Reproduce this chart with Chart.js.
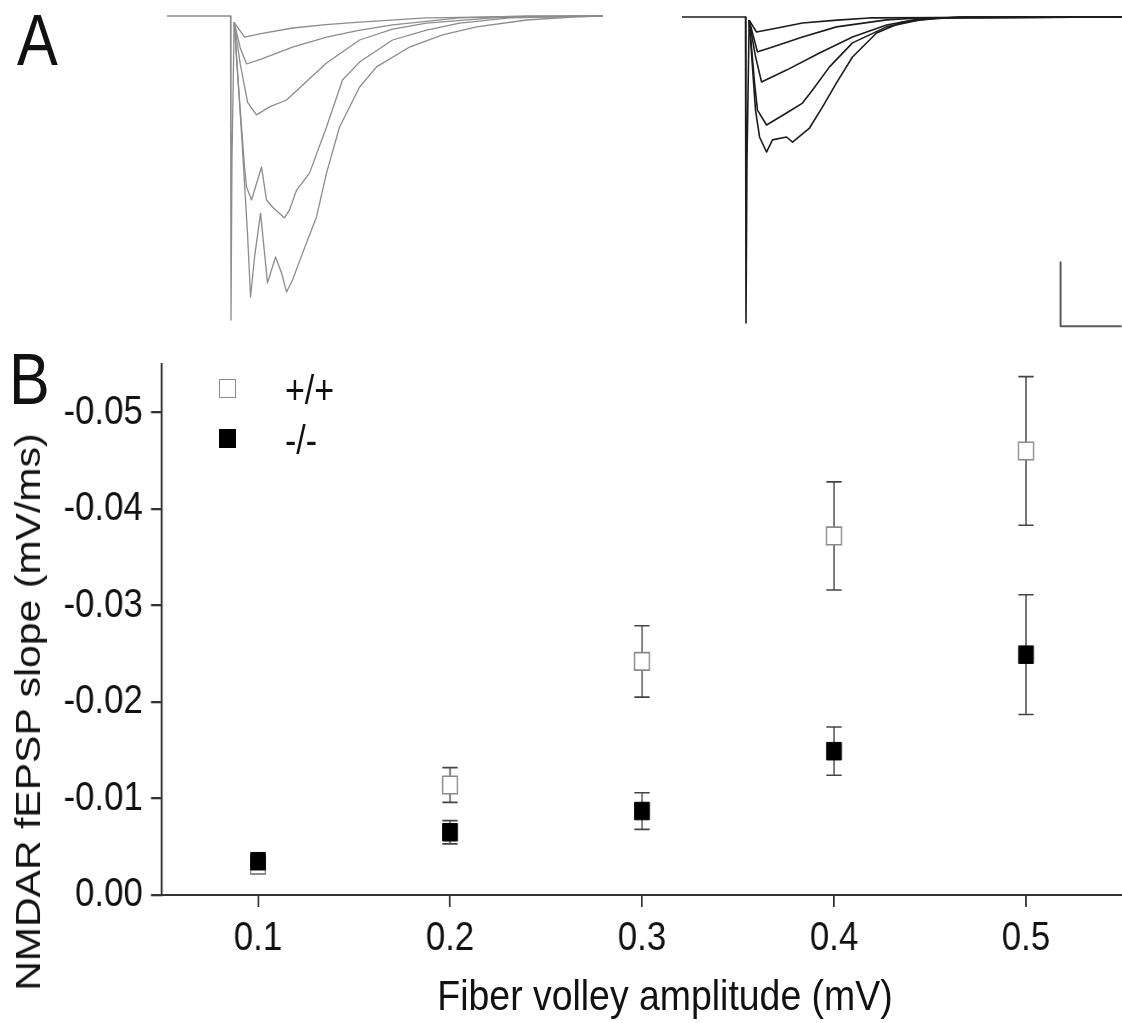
<!DOCTYPE html>
<html>
<head>
<meta charset="utf-8">
<script src="https://cdn.jsdelivr.net/npm/chart.js@4.4.1/dist/chart.umd.min.js"></script>
<style>
  html, body { margin: 0; padding: 0; background: #fff; }
  body {
    width: 1122px; height: 1023px; position: relative; overflow: hidden;
    font-family: 'Liberation Sans', Arial, sans-serif;
    color: #111;
  }
  canvas { position: absolute; }
  #trace-wt { left: 167px; top: 0; }
  #trace-ko { left: 682px; top: 0; }
  #slope-chart { left: 0; top: 330px; }
  .squeeze { position: absolute; white-space: nowrap; transform-origin: 0 0; transform: scaleX(0.85); }
  .panel { font-size: 72px; line-height: 72px; }
  .legend-box { position: absolute; width: 17px; height: 19px; box-sizing: border-box; }
  .legend-text { font-size: 40px; line-height: 40px; }
  #y-title {
    position: absolute; left: 29px; top: 712px;
    font-size: 41px; line-height: 41px; white-space: nowrap;
    transform: translate(-50%, -50%) scaleX(0.85) rotate(-90deg);
  }
  #x-title {
    position: absolute; left: 665px; top: 974px;
    font-size: 43px; line-height: 43px; white-space: nowrap;
    transform: translateX(-50%) scaleX(0.87);
  }
</style>
</head>
<body>
<div class="squeeze panel" style="left:17px; top:4px;">A</div>
<div class="squeeze panel" style="left:9px; top:343px;">B</div>

<canvas id="trace-wt" width="436" height="330"></canvas>
<canvas id="trace-ko" width="440" height="330"></canvas>
<!-- the figure is set in a slightly condensed face: panel B is drawn wider and squeezed sideways -->
<canvas id="slope-chart" width="1320" height="693" style="width:1122px; height:693px;"></canvas>

<div class="legend-box" style="left:219px; top:379px; border:1.5px solid #8a8a8a; background:#fff;"></div>
<div class="squeeze legend-text" style="left:285px; top:370px;">+/+</div>
<div class="legend-box" style="left:219px; top:429px; background:#000;"></div>
<div class="squeeze legend-text" style="left:285px; top:420px;">-/-</div>

<div id="y-title">NMDAR fEPSP slope (mV/ms)</div>
<div id="x-title">Fiber volley amplitude (mV)</div>

<script>
// panel B: NMDAR fEPSP slope vs fiber volley amplitude
const amplitudes = [0.1, 0.2, 0.3, 0.4, 0.5]
const wtSlope = [-0.0031, -0.0114, -0.0242, -0.0372, -0.0460]
const wtSem = [0.0009, 0.0018, 0.0037, 0.0056, 0.0077]
const koSlope = [-0.0035, -0.0065, -0.0087, -0.0149, -0.0249]
const koSem = [0.0005, 0.0012, 0.0019, 0.0025, 0.0062]
const xTicks = [0.1, 0.2, 0.3, 0.4, 0.5]
const yTicks = [-0.05, -0.04, -0.03, -0.02, -0.01, 0]

// panel A: example traces, [time (ms), voltage (mV)]
const wtArtifact = [[-52, 0], [0, 0], [0.4, -0.95], [1.2, -0.45], [3, -0.02]]
const wt1 = [[3, -0.02], [11.5, -0.066], [25, -0.055], [50.8, -0.0375], [78, -0.027], [105.7, -0.019], [160.5, -0.006], [214.6, -0.003], [305, 0]]
const wt2 = [[3, -0.02], [8, -0.1], [13.1, -0.15], [25, -0.135], [50.8, -0.097], [78.6, -0.066], [105, -0.045], [132.7, -0.028], [187.5, -0.006], [242.4, 0], [305, 0]]
const wt3 = [[3, -0.02], [8, -0.15], [14, -0.27], [21.3, -0.309], [31.9, -0.284], [45.9, -0.2625], [56.5, -0.225], [78.6, -0.147], [105.7, -0.075], [132.7, -0.041], [160.5, -0.022], [214.6, -0.006], [242.4, -0.003], [305, 0]]
const wt4 = [[3, -0.02], [7.4, -0.2625], [11.5, -0.472], [13.1, -0.534], [17.2, -0.575], [25.4, -0.472], [29.5, -0.575], [34.4, -0.597], [44.2, -0.631], [48.3, -0.606], [54.1, -0.544], [64.7, -0.491], [78.6, -0.347], [91.7, -0.2], [105.7, -0.144], [132.7, -0.075], [160.5, -0.044], [187.5, -0.022], [228.5, -0.006], [305, 0]]
const wt5 = [[3, -0.02], [9, -0.366], [13.9, -0.678], [16.4, -0.878], [19.7, -0.753], [24.6, -0.616], [30.3, -0.834], [36.9, -0.753], [41.8, -0.803], [45.9, -0.8625], [50.8, -0.825], [59, -0.741], [70.4, -0.628], [78.6, -0.491], [89.3, -0.347], [105.7, -0.222], [119.6, -0.159], [146.6, -0.097], [173.6, -0.059], [201.5, -0.034], [242.4, -0.0125], [283.4, -0.003], [305, 0]]

const koArtifact = [[-52, 0], [0, 0], [0.4, -0.956], [1.2, -0.45], [3, -0.01]]
const ko1 = [[3, -0.01], [9, -0.047], [25, -0.035], [46.7, -0.019], [75, -0.01], [101.6, -0.003], [308, 0]]
const ko2 = [[3, -0.01], [9.8, -0.109], [19.7, -0.097], [46.7, -0.0625], [74.5, -0.031], [115.5, -0.009], [142.5, -0.003], [308, 0]]
const ko3 = [[3, -0.01], [8, -0.12], [13.1, -0.203], [33.6, -0.166], [60.6, -0.1125], [87.6, -0.0625], [115.5, -0.025], [142.5, -0.006], [180, 0], [308, 0]]
const ko4 = [[3, -0.01], [7.4, -0.206], [9.8, -0.291], [17.2, -0.3375], [33.6, -0.3], [46.7, -0.269], [54.9, -0.228], [68.8, -0.156], [87.6, -0.081], [115.5, -0.031], [142.5, -0.009], [175, 0], [308, 0]]
const ko5 = [[3, -0.01], [8.2, -0.291], [11.5, -0.375], [17.2, -0.422], [22.1, -0.384], [33.6, -0.375], [38.5, -0.391], [52.4, -0.347], [63.1, -0.281], [74.5, -0.206], [87.6, -0.125], [107.3, -0.05], [128.6, -0.016], [156.4, -0.003], [308, 0]]

// scale bar, drawn in the -/- trace panel
const scaleBar = [[258, -0.766], [258, -0.966], [308, -0.966]]

Chart.defaults.font.family = "'Liberation Sans', Arial, sans-serif"
Chart.defaults.color = '#111'

const toXY = pts => pts.map(p => ({ x: p[0], y: p[1] }))

function traceDataset (pts, color, width) {
  return {
    data: toXY(pts),
    borderColor: color,
    borderWidth: width,
    pointRadius: 0,
    tension: 0,
    fill: false
  }
}

function traceChart (id, datasets, tMax, vMax, vMin) {
  return new Chart(document.getElementById(id), {
    type: 'line',
    data: { datasets },
    options: {
      responsive: false,
      animation: false,
      devicePixelRatio: 1,
      layout: { padding: 0, autoPadding: false },
      plugins: { legend: { display: false }, tooltip: { enabled: false } },
      elements: { line: { borderJoinStyle: 'round' } },
      scales: {
        x: { type: 'linear', min: -52, max: tMax, display: false },
        y: { type: 'linear', min: vMin, max: vMax, display: false }
      }
    }
  })
}

const wtColor = '#8c8c8c'
const koColor = '#1c1c1c'

traceChart('trace-wt', [wtArtifact, wt1, wt2, wt3, wt4, wt5].map(t => traceDataset(t, wtColor, 1.3)), 305, 0.05, -0.98125)

const koSets = [koArtifact, ko1, ko2, ko3, ko4, ko5].map(t => traceDataset(t, koColor, 1.6))
koSets.push(traceDataset(scaleBar, '#5a5a5a', 2))
traceChart('trace-ko', koSets, 308.3, 0.053, -0.978)

// vertical SEM bars with caps, drawn under the markers
const errorBars = {
  id: 'errorBars',
  beforeDatasetsDraw (chart) {
    const { ctx, scales: { x, y } } = chart
    chart.data.datasets.forEach(ds => {
      if (!ds.errors) return
      ctx.save()
      ctx.strokeStyle = '#444'
      ctx.lineWidth = 1.6
      ds.data.forEach((p, i) => {
        const px = x.getPixelForValue(p.x)
        const top = y.getPixelForValue(p.y - ds.errors[i])
        const bot = y.getPixelForValue(p.y + ds.errors[i])
        ctx.beginPath()
        ctx.moveTo(px, top)
        ctx.lineTo(px, bot)
        ctx.moveTo(px - 9, top)
        ctx.lineTo(px + 9, top)
        ctx.moveTo(px - 9, bot)
        ctx.lineTo(px + 9, bot)
        ctx.stroke()
      })
      ctx.restore()
    })
  }
}

const axisColor = '#333'

new Chart(document.getElementById('slope-chart'), {
  type: 'scatter',
  data: {
    datasets: [
      {
        label: '-/-',
        data: amplitudes.map((a, i) => ({ x: a, y: koSlope[i] })),
        errors: koSem,
        pointStyle: 'rect',
        pointRadius: 12.4,
        backgroundColor: '#000',
        borderColor: '#000',
        borderWidth: 1,
        order: 0
      },
      {
        label: '+/+',
        data: amplitudes.map((a, i) => ({ x: a, y: wtSlope[i] })),
        errors: wtSem,
        pointStyle: 'rect',
        pointRadius: 12.4,
        backgroundColor: '#fff',
        borderColor: '#8a8a8a',
        borderWidth: 1.6,
        order: 1
      }
    ]
  },
  options: {
    responsive: false,
    animation: false,
    devicePixelRatio: 1,
    // the x axis runs to the right edge of the figure
    layout: { padding: { top: 30, left: 0, right: 0, bottom: 0 }, autoPadding: false },
    plugins: { legend: { display: false }, tooltip: { enabled: false } },
    scales: {
      x: {
        type: 'linear',
        min: 0.05,
        max: 0.55,
        afterBuildTicks: s => { s.ticks = xTicks.map(v => ({ value: v })) },
        afterFit: s => { s.height = 128 },
        grid: { drawOnChartArea: false, tickLength: 12, color: axisColor, lineWidth: 2 },
        border: { color: axisColor, width: 2 },
        ticks: { padding: 7, color: '#111', font: { size: 41 }, maxRotation: 0, autoSkip: false, callback: v => v.toFixed(1) }
      },
      y: {
        type: 'linear',
        reverse: true,
        min: -0.055,
        max: 0,
        afterBuildTicks: s => { s.ticks = yTicks.map(v => ({ value: v })) },
        afterFit: s => { s.width = 190.6 },
        grid: { drawOnChartArea: false, tickLength: 13, color: axisColor, lineWidth: 2.3 },
        border: { color: axisColor, width: 2.3 },
        ticks: { padding: 9.5, color: '#111', font: { size: 41 }, autoSkip: false, callback: v => v.toFixed(2) }
      }
    }
  },
  plugins: [errorBars]
})
</script>
</body>
</html>
